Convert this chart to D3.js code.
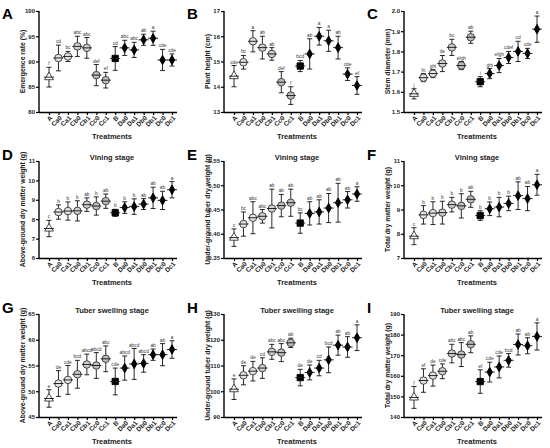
<!DOCTYPE html>
<html>
<head>
<meta charset="utf-8">
<script src="https://cdn.jsdelivr.net/npm/d3@7"></script>
<style>
  body { margin: 0; background: #fff; }
  text { font-family: "Liberation Sans", Arial, sans-serif; }
</style>
</head>
<body>
<div id="chart"></div>
<script>
// treatments on the x axis
var treatments = ["A", "Ca0", "Ca1", "Cb0", "Cb1", "Cc0", "Cc1", "B", "Da0", "Da1", "Db0", "Db1", "Dc0", "Dc1"];

// A - emergence rate
var emergenceMean = [86.9, 90.7, 91.0, 93.0, 92.7, 87.3, 86.3, 90.6, 92.7, 92.3, 94.3, 94.6, 90.3, 90.3];
var emergenceSd = [1.95, 2.55, 1.0, 2.0, 2.05, 2.1, 1.55, 2.35, 1.5, 1.5, 1.1, 1.4, 2.1, 1.2];
var emergenceSig = ["f", "cd", "bc", "abc", "abc", "def", "ef", "cd", "abc", "abc", "ab", "a", "cde", "cde"];

// B - plant height
var heightMean = [14.42, 14.97, 15.8, 15.55, 15.3, 14.18, 13.65, 14.82, 15.3, 16.0, 15.82, 15.55, 14.5, 14.05];
var heightSd = [0.42, 0.27, 0.42, 0.45, 0.25, 0.42, 0.35, 0.22, 0.6, 0.35, 0.42, 0.45, 0.25, 0.35];
var heightSig = ["cde", "bc", "a", "ab", "ab", "def", "f", "bcd", "ab", "a", "a", "ab", "cde", "ef"];

// C - stem diameter
var stemMean = [1.59, 1.67, 1.69, 1.74, 1.82, 1.73, 1.87, 1.65, 1.69, 1.73, 1.77, 1.80, 1.79, 1.91];
var stemSd = [0.025, 0.02, 0.02, 0.04, 0.04, 0.02, 0.03, 0.025, 0.025, 0.035, 0.03, 0.05, 0.025, 0.065];
var stemSig = ["j", "hi", "ghi", "de", "bc", "efgh", "ab", "i", "ghi", "efgh", "cdef", "cd", "cde", "a"];

// D - above-ground, vining
var aboveVineMean = [7.52, 8.37, 8.42, 8.43, 8.75, 8.68, 8.93, 8.33, 8.6, 8.65, 8.78, 9.1, 8.97, 9.52];
var aboveVineSd = [0.42, 0.37, 0.47, 0.52, 0.35, 0.47, 0.37, 0.18, 0.3, 0.4, 0.28, 0.55, 0.47, 0.42];
var aboveVineSig = ["c", "b", "b", "b", "ab", "b", "ab", "b", "b", "b", "ab", "ab", "ab", "a"];

// E - under-ground tuber, vining
var tuberVineMean = [0.392, 0.42, 0.433, 0.436, 0.452, 0.458, 0.464, 0.422, 0.442, 0.445, 0.453, 0.464, 0.47, 0.482];
var tuberVineSd = [0.018, 0.025, 0.033, 0.014, 0.04, 0.023, 0.028, 0.021, 0.024, 0.025, 0.03, 0.04, 0.017, 0.015];
var tuberVineSig = ["c", "bc", "abc", "abc", "ab", "ab", "ab", "bc", "ab", "ab", "ab", "ab", "ab", "a"];

// F - total, vining
var totalVineMean = [7.9, 8.78, 8.85, 8.87, 9.2, 9.15, 9.42, 8.75, 9.03, 9.1, 9.25, 9.57, 9.45, 10.02];
var totalVineSd = [0.35, 0.38, 0.47, 0.47, 0.3, 0.5, 0.33, 0.2, 0.28, 0.4, 0.3, 0.57, 0.5, 0.43];
var totalVineSig = ["c", "b", "b", "b", "b", "b", "ab", "b", "b", "b", "b", "ab", "ab", "a"];

// G - above-ground, tuber swelling
var aboveSwellMean = [48.6, 51.5, 52.2, 53.3, 55.2, 55.0, 56.3, 51.9, 54.5, 55.3, 55.4, 57.1, 57.1, 58.1];
var aboveSwellSd = [1.7, 2.5, 2.8, 2.7, 2.0, 2.5, 2.5, 2.6, 2.35, 3.0, 1.7, 1.1, 2.15, 1.7];
var aboveSwellSig = ["e", "de", "cde", "bcd", "abcd", "abcd", "abc", "cde", "abcd", "abcd", "abcd", "ab", "ab", "a"];

// H - under-ground tuber, tuber swelling
var tuberSwellMean = [100.8, 106.2, 107.8, 109.0, 115.3, 115.0, 118.8, 105.3, 107.3, 109.0, 112.2, 117.9, 117.2, 120.8];
var tuberSwellSd = [4.0, 3.7, 3.8, 4.0, 2.9, 3.5, 1.8, 3.2, 2.9, 3.0, 5.0, 3.9, 4.0, 5.0];
var tuberSwellSig = ["e", "de", "de", "cd", "abc", "abc", "ab", "de", "de", "cd", "bcd", "ab", "ab", "a"];

// I - total, tuber swelling
var totalSwellMean = [149.5, 157.7, 160.1, 162.2, 170.8, 170.3, 175.3, 157.2, 161.8, 164.3, 167.5, 175.2, 174.6, 179.1];
var totalSwellSd = [5.3, 5.7, 5.1, 3.6, 4.5, 5.8, 4.1, 5.7, 4.8, 5.3, 3.3, 5.1, 3.9, 6.6];
var totalSwellSig = ["f", "ef", "de", "cde", "abc", "abc", "ab", "ef", "cde", "cde", "bcd", "ab", "ab", "a"];

var svgWidth = 550;
var svgHeight = 448;

var svg = d3.select("#chart")
  .append("svg")
  .attr("width", svgWidth)
  .attr("height", svgHeight);

// panel layout: column x of y-axis, row top/height
var colLeft = [39, 224, 404];
var plotWidth = 138;
var rowTop = [11, 161, 314];
var rowHeight = [101, 97, 103];

var panels = [
  {letter: "A", mean: emergenceMean, sd: emergenceSd, sig: emergenceSig, domain: [80, 100], step: 5, fmt: "d", label: "Emergence rate (%)", title: null},
  {letter: "B", mean: heightMean, sd: heightSd, sig: heightSig, domain: [13, 17], step: 1, fmt: "d", label: "Plant height (cm)", title: null},
  {letter: "C", mean: stemMean, sd: stemSd, sig: stemSig, domain: [1.5, 2.0], step: 0.1, fmt: ".1f", label: "Stem diameter (mm)", title: null},
  {letter: "D", mean: aboveVineMean, sd: aboveVineSd, sig: aboveVineSig, domain: [6, 11], step: 1, fmt: "d", label: "Above-ground dry matter weight (g)", title: "Vining stage"},
  {letter: "E", mean: tuberVineMean, sd: tuberVineSd, sig: tuberVineSig, domain: [0.35, 0.55], step: 0.05, fmt: ".2f", label: "Under-ground tuber dry weight (g)", title: "Vining stage"},
  {letter: "F", mean: totalVineMean, sd: totalVineSd, sig: totalVineSig, domain: [7, 11], step: 1, fmt: "d", label: "Total dry matter weight (g)", title: "Vining stage"},
  {letter: "G", mean: aboveSwellMean, sd: aboveSwellSd, sig: aboveSwellSig, domain: [45, 65], step: 5, fmt: "d", label: "Above-ground dry matter weight (g)", title: "Tuber swelling stage"},
  {letter: "H", mean: tuberSwellMean, sd: tuberSwellSd, sig: tuberSwellSig, domain: [90, 130], step: 10, fmt: "d", label: "Under-ground tuber dry weight (g)", title: "Tuber swelling stage"},
  {letter: "I", mean: totalSwellMean, sd: totalSwellSd, sig: totalSwellSig, domain: [140, 190], step: 10, fmt: "d", label: "Total dry matter weight (g)", title: "Tuber swelling stage"}
];

// marker style by treatment group
function markerType(t) {
  if (t === "A") return d3.symbolTriangle;
  if (t === "B") return d3.symbolSquare;
  if (t[0] === "C") return d3.symbolCircle;
  return d3.symbolDiamond;
}
function markerFill(t) {
  if (t === "A") return "#ffffff";
  if (t[0] === "C") return t[1] === "a" ? "#e4e4e4" : (t[1] === "b" ? "#cfcfcf" : "#bdbdbd");
  return "#000000";
}
function markerSize(t) {
  if (t === "A") return 34;
  if (t === "B") return 40;
  if (t[0] === "C") return 44;
  return 26;
}

panels.forEach(function(p, i) {
  var col = i % 3;
  var row = Math.floor(i / 3);
  var height = rowHeight[row];

  var g = svg.append("g")
    .attr("transform", `translate(${colLeft[col]}, ${rowTop[row]})`);

  var xScale = d3.scalePoint()
    .domain(treatments)
    .range([10, plotWidth - 5]);

  var yScale = d3.scaleLinear()
    .domain(p.domain)
    .range([height, 0]);

  var ticks = d3.range(p.domain[0], p.domain[1] + p.step / 2, p.step);

  // y axis
  var leftAxis = d3.axisLeft(yScale)
    .tickValues(ticks)
    .tickSize(3)
    .tickFormat(d3.format(p.fmt));

  var yAxis = g.append("g").call(leftAxis);
  yAxis.select(".domain").attr("stroke-width", 1.4).attr("d", `M0,${height + 0.5}V0`);
  yAxis.selectAll(".tick line").attr("stroke-width", 1.2);
  yAxis.selectAll(".tick text")
    .attr("x", -4)
    .attr("font-size", "6px")
    .attr("font-weight", "bold")
    .attr("fill", "#222");

  // x axis
  var bottomAxis = d3.axisBottom(xScale).tickSize(3).tickSizeOuter(0);
  var xAxis = g.append("g")
    .attr("transform", `translate(0, ${height})`)
    .call(bottomAxis);
  xAxis.select(".domain").attr("stroke-width", 1.4).attr("d", `M0,0.5H${plotWidth}`);
  xAxis.selectAll(".tick line").attr("stroke-width", 1.2);
  xAxis.selectAll(".tick text")
    .attr("font-size", "6.5px")
    .attr("font-weight", "bold")
    .attr("fill", "#222")
    .attr("text-anchor", "end")
    .attr("dy", "0.3em")
    .attr("transform", "translate(2, 5) rotate(-45)")
    .attr("y", 0);

  // axis titles
  g.append("text")
    .attr("x", plotWidth / 2 + 4)
    .attr("y", height + 27)
    .attr("text-anchor", "middle")
    .attr("font-size", "7.5px")
    .attr("font-weight", "bold")
    .attr("fill", "#222")
    .text("Treatments");

  g.append("text")
    .attr("transform", "rotate(-90)")
    .attr("x", -height / 2)
    .attr("y", -14)
    .attr("text-anchor", "middle")
    .attr("font-size", "6.8px")
    .attr("font-weight", "bold")
    .attr("fill", "#222")
    .text(p.label);

  if (p.title) {
    g.append("text")
      .attr("x", plotWidth / 2 + 4)
      .attr("y", -1)
      .attr("text-anchor", "middle")
      .attr("font-size", "7.5px")
      .attr("font-weight", "bold")
      .attr("fill", "#222")
      .text(p.title);
  }

  // panel letter
  svg.append("text")
    .attr("x", colLeft[col] - 37)
    .attr("y", rowTop[row] + (row === 0 ? 8 : -1))
    .attr("font-size", "15px")
    .attr("font-weight", "bold")
    .attr("fill", "#000")
    .text(p.letter);

  var points = treatments.map(function(t, j) {
    return {t: t, mean: p.mean[j], sd: p.sd[j], sig: p.sig[j]};
  });

  var pts = g.selectAll(".pt")
    .data(points)
    .enter()
    .append("g")
    .attr("class", "pt");

  // error bars
  pts.append("line")
    .attr("x1", d => xScale(d.t))
    .attr("x2", d => xScale(d.t))
    .attr("y1", d => yScale(d.mean - d.sd))
    .attr("y2", d => yScale(d.mean + d.sd))
    .attr("stroke", "#111")
    .attr("stroke-width", 0.9);

  pts.selectAll(".cap")
    .data(d => [d.mean - d.sd, d.mean + d.sd].map(v => ({t: d.t, v: v})))
    .enter()
    .append("line")
    .attr("x1", d => xScale(d.t) - 2.5)
    .attr("x2", d => xScale(d.t) + 2.5)
    .attr("y1", d => yScale(d.v))
    .attr("y2", d => yScale(d.v))
    .attr("stroke", "#111")
    .attr("stroke-width", 0.9);

  // markers
  pts.append("path")
    .attr("d", d => d3.symbol().type(markerType(d.t)).size(markerSize(d.t))())
    .attr("transform", d => `translate(${xScale(d.t)}, ${yScale(d.mean)})`)
    .attr("fill", d => markerFill(d.t))
    .attr("stroke", d => d.t[0] === "C" || d.t === "A" ? "#333" : "#000")
    .attr("stroke-width", 0.9);

  // mean line
  pts.append("line")
    .attr("x1", d => xScale(d.t) - 5)
    .attr("x2", d => xScale(d.t) + 5)
    .attr("y1", d => yScale(d.mean))
    .attr("y2", d => yScale(d.mean))
    .attr("stroke", "#111")
    .attr("stroke-width", 0.9);

  // significance letters
  pts.append("text")
    .attr("x", d => xScale(d.t))
    .attr("y", d => yScale(d.mean + d.sd) - 2)
    .attr("text-anchor", "middle")
    .attr("font-size", "4.8px")
    .attr("fill", "#333")
    .text(d => d.sig);
});
</script>
</body>
</html>
